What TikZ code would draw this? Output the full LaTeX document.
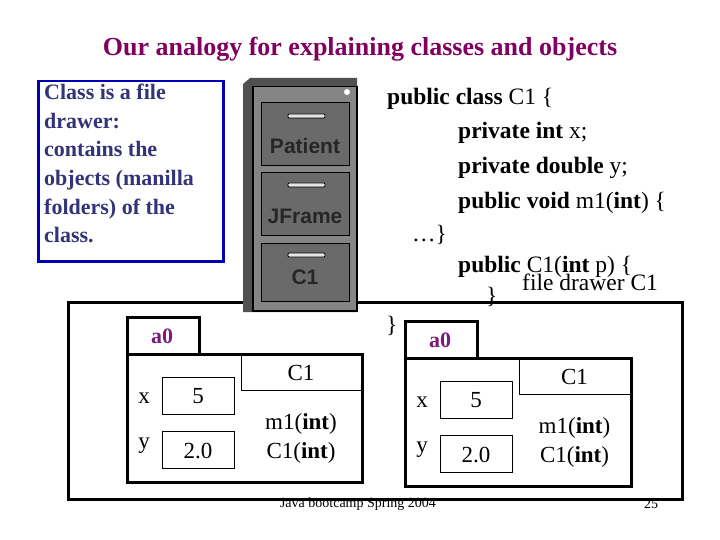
\documentclass[tikz,border=0pt]{standalone}
\usepackage{fontspec}
\setmainfont{Liberation Serif}
\newfontfamily\arialf{Liberation Sans}
\definecolor{ttl}{HTML}{800060}
\definecolor{bxt}{HTML}{333377}
\definecolor{pur}{HTML}{7A1A7A}
\definecolor{cab}{HTML}{858585}
\definecolor{drw}{HTML}{6A6A6A}
\begin{document}
\begin{tikzpicture}[x=1pt,y=-1pt,
  thk/.style={draw=black,line width=2.5pt},
  thn/.style={draw=black,line width=0.8pt},
  txt/.style={inner sep=0pt,font=\fontsize{23}{27}\selectfont},
  drawer/.style={fill=drw,draw=black,line width=1.2pt},
  dlab/.style={inner sep=0pt,font=\arialf\bfseries\fontsize{21}{24}\selectfont,text=black!85}]
\useasboundingbox (0,0) rectangle (720,540);
\node[inner sep=0pt,text=ttl,font=\bfseries\fontsize{26}{30}\selectfont] (title) at (360,49) {Our analogy for explaining classes and objects};
% blue box
\node[draw=blue!70!black,line width=2.5pt,minimum width=185pt,minimum height=180pt,anchor=north west] (cbox) at (37,80) {};
\node[anchor=north west,inner sep=0pt,align=left,text=bxt,font=\bfseries\fontsize{22}{28.6}\selectfont] (ctext) at (44,84) {Class is a file\\drawer:\\contains the\\objects (manilla\\folders) of the\\class.};
% outer drawer box
\node[thk,minimum width=614pt,minimum height=197pt,anchor=north west] (outer) at (67,301) {};
% cabinet
\fill[cab!60!black] (243,84) -- (250,78) -- (357,78) -- (357,312) -- (243,312) -- cycle;
\node[fill=cab,draw=black,line width=1.5pt,minimum width=104pt,minimum height=224pt,anchor=north west] (cab) at (252,86) {};
\fill[white] (347,92) circle (3);
\node[drawer,minimum width=88pt,minimum height=63pt,anchor=north west] (d1) at (261,102) {};
\node[drawer,minimum width=88pt,minimum height=63pt,anchor=north west] (d2) at (261,172) {};
\node[drawer,minimum width=88pt,minimum height=58pt,anchor=north west] (d3) at (261,243) {};
\foreach \d/\y in {d1/116,d2/185,d3/255}{
  \draw[black,line width=0.8pt,fill=white!80!gray,rounded corners=1pt] (288,\y-2) rectangle (325,\y+2);}
\node[dlab] (l1) at (305,146) {Patient};
\node[dlab] (l2) at (305,216) {JFrame};
\node[dlab] (l3) at (305,277) {C1};
% code
\begin{scope}[every node/.style={inner sep=0pt,anchor=base west,font=\fontsize{23.5}{27}\selectfont}]
\node (c1) at (387,105) {\textbf{public class} C1 \{};
\node (c2) at (458,139) {\textbf{private int} x;};
\node (c3) at (458,174) {\textbf{private double} y;};
\node (c4) at (458,208) {\textbf{public void} m1(\textbf{int}) \{};
\node (c5) at (412,241) {\ldots\}};
\node (c6) at (458,272) {\textbf{public} C1(\textbf{int} p) \{};
\node (c7) at (486,303) {\}};
\node (c8) at (522,290) {file drawer C1};
\node (c9) at (386,332) {\}};
\end{scope}
% objects
\foreach \ox/\oy/\n/\w in {126/316/L/235,404/320/R/226}{
  \begin{scope}[shift={(\ox,\oy)}]
  \node[thk,minimum width=72pt,minimum height=37pt,anchor=north west] (tab\n) at (0,0) {};
  \node[txt,text=pur,font=\bfseries\fontsize{22}{24}\selectfont] (a\n) at (36,20) {a0};
  \node[thk,minimum width=\w pt,minimum height=128pt,anchor=north west] (body\n) at (0,37) {};
  \node[thn,minimum width=\w pt-115pt,minimum height=37pt,anchor=north west] (cls\n) at (115,37) {};
  \node[txt] (cl\n) at (115+\w/2-115/2,57) {C1};
  \node[thn,minimum width=72pt,minimum height=37pt,anchor=north west] (xb\n) at (36,61) {};
  \node[txt] (xv\n) at (72,80) {5};
  \node[txt] (xl\n) at (18,82) {x};
  \node[thn,minimum width=72pt,minimum height=37pt,anchor=north west] (yb\n) at (36,115) {};
  \node[txt] (yv\n) at (72,135) {2.0};
  \node[txt] (yl\n) at (18,130) {y};
  \node[txt,align=center,font=\fontsize{23}{29}\selectfont] (m\n) at (115+\w/2-115/2,122) {m1(\textbf{int})\\C1(\textbf{int})};
  \end{scope}}
\node[inner sep=0pt,font=\fontsize{14}{16}\selectfont] (foot) at (358,504) {Java bootcamp Spring 2004};
\node[inner sep=0pt,font=\fontsize{14}{16}\selectfont] (pg) at (651,504) {25};
\end{tikzpicture}
\end{document}
